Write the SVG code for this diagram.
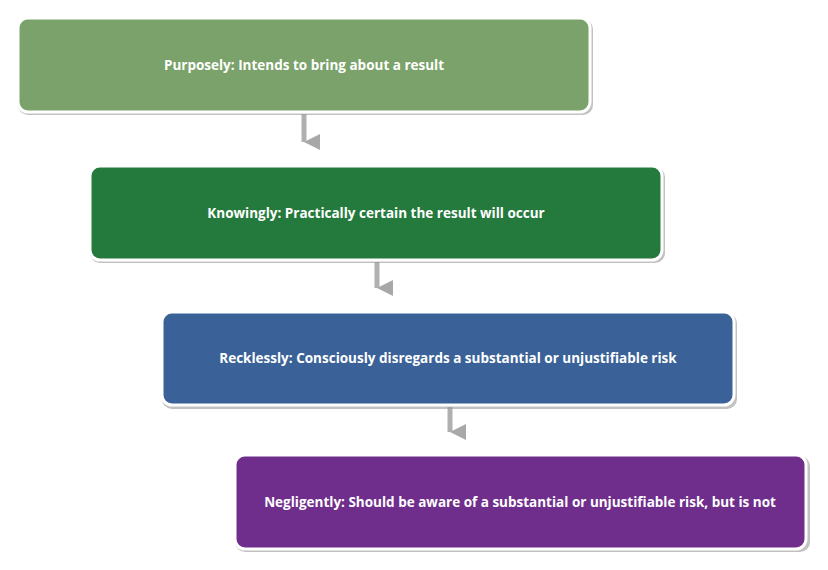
<svg xmlns="http://www.w3.org/2000/svg" width="828" height="570" viewBox="0 0 828 570">
<defs>
<style>
.box{stroke:#fff;stroke-width:3}
.sh{fill:#9a9a9a;opacity:0.6}
.t{font-family:"Open Sans","Liberation Sans",sans-serif;font-weight:bold;font-size:13.5px;fill:#fff;text-anchor:middle}
.c{stroke:#b0b0b0;stroke-width:5;fill:none}
</style>
<marker id="a" viewBox="0 0 10 10" refX="5" refY="10" markerWidth="3.2" markerHeight="4" orient="auto-start-reverse" markerUnits="strokeWidth"><path d="M0,0 L10,0 L5,10 Z" fill="#a8a8a8"/></marker>
</defs>
<g id="connectors">
<line class="c" x1="304" y1="114" x2="304" y2="142" marker-end="url(#a)"/>
<line class="c" x1="377" y1="262" x2="377" y2="288" marker-end="url(#a)"/>
<line class="c" x1="450" y1="407" x2="450" y2="432" marker-end="url(#a)"/>
</g>
<g id="n1"><rect class="sh" x="18" y="19" width="575" height="96" rx="10"/><rect class="box" x="18" y="18" width="572" height="94" rx="10" fill="#7aa26a"/><text class="t" x="304" y="70">Purposely: Intends to bring about a result</text></g>
<g id="n2"><rect class="sh" x="90" y="167" width="575" height="96" rx="10"/><rect class="box" x="90" y="166" width="572" height="94" rx="10" fill="#247a3c"/><text class="t" x="376" y="218">Knowingly: Practically certain the result will occur</text></g>
<g id="n3"><rect class="sh" x="162" y="313" width="575" height="96" rx="10"/><rect class="box" x="162" y="312" width="572" height="93" rx="10" fill="#3a6298"/><text class="t" x="448" y="363">Recklessly: Consciously disregards a substantial or unjustifiable risk</text></g>
<g id="n4"><rect class="sh" x="235" y="456" width="575" height="96" rx="10"/><rect class="box" x="235" y="455" width="571" height="94" rx="10" fill="#6f2e8c"/><text class="t" x="520" y="507">Negligently: Should be aware of a substantial or unjustifiable risk, but is not</text></g>
</svg>
